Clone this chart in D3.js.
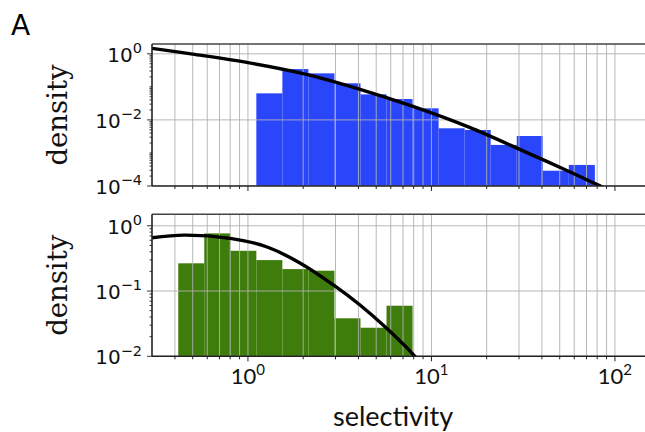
<!DOCTYPE html>
<html>
<head>
<meta charset="utf-8">
<script src="https://cdn.jsdelivr.net/npm/d3@7"></script>
<style>
  html, body { margin: 0; padding: 0; background: #fff; }
  svg { display: block; }
</style>
</head>
<body>
<svg id="chart" width="645" height="432"></svg>
<script>
// Histogram bin edges (log-spaced) and densities for the two populations
const topEdges = [1.111, 1.540, 2.135, 2.960, 4.105, 5.691, 7.890, 10.94, 15.17, 21.03, 29.16, 40.43, 56.05, 77.71];
const topDensity = [0.0636, 0.345, 0.256, 0.128, 0.0593, 0.0428, 0.0224, 0.00557, 0.00495, 0.00175, 0.00326, 0.00029, 0.000434];

const bottomEdges = [0.417, 0.578, 0.801, 1.111, 1.540, 2.135, 2.960, 4.105, 5.691, 7.890];
const bottomDensity = [0.266, 0.765, 0.414, 0.298, 0.217, 0.205, 0.0382, 0.0274, 0.0596];

// Fitted density curves
const topFitX = [0.3, 0.5, 1, 2, 4, 8, 16, 32, 50, 80, 100];
const topFitY = [1.46, 0.977, 0.54, 0.251, 0.087, 0.0251, 0.00603, 0.00112, 0.00037, 0.00011, 0.000059];

const bottomFitX = [0.3, 0.45, 0.8, 1.26, 1.92, 2.92, 4.08, 5.7, 8.12, 9];
const bottomFitY = [0.655, 0.72, 0.64, 0.477, 0.27, 0.124, 0.061, 0.0268, 0.01, 0.007];

// Axis ticks
const xTickLabels = [1, 10, 100];
const topYTicks = [1, 0.01, 0.0001];
const bottomYTicks = [1, 0.1, 0.01];

const svg = d3.select("#chart");
svg.append("rect").attr("width", 645).attr("height", 432).attr("fill", "#fff");

const plotLeft = 152;
const decadePx = 183.5;
const xDomain = [0.3, 160];
const x = d3.scaleLog()
  .domain(xDomain)
  .range([plotLeft, plotLeft + Math.log10(xDomain[1] / xDomain[0]) * decadePx]);

const panels = [
  { id: "top", top: 44, bottom: 186, yDomain: [1e-4, 1.98], edges: topEdges, dens: topDensity,
    fx: topFitX, fy: topFitY, color: "#2a46fb", yTicks: topYTicks, xLabels: false },
  { id: "bottom", top: 214.3, bottom: 356.3, yDomain: [1e-2, 1.5], edges: bottomEdges, dens: bottomDensity,
    fx: bottomFitX, fy: bottomFitY, color: "#3e7d0b", yTicks: bottomYTicks, xLabels: true }
];

const plotRight = 645;

function supLabel(sel, exp, baseSize, supSize, supShift) {
  sel.append("tspan").text("10").attr("font-size", baseSize);
  sel.append("tspan").text(exp < 0 ? "\u2212" + Math.abs(exp) : String(exp))
    .attr("font-size", supSize).attr("dy", -supShift);
}

panels.forEach(p => {
  const y = d3.scaleLog().domain(p.yDomain).range([p.bottom, p.top]);
  const g = svg.append("g");

  const clipId = "clip-" + p.id;
  g.append("clipPath").attr("id", clipId)
    .append("rect").attr("x", plotLeft).attr("y", p.top)
    .attr("width", plotRight - plotLeft).attr("height", p.bottom - p.top);

  const plot = g.append("g").attr("clip-path", `url(#${clipId})`);

  // histogram bars
  const bars = p.dens.map((d, i) => ({ x0: p.edges[i], x1: p.edges[i + 1], d }));
  plot.selectAll("rect.bar").data(bars).join("rect")
    .attr("class", "bar")
    .attr("x", b => x(b.x0))
    .attr("width", b => x(b.x1) - x(b.x0))
    .attr("y", b => y(b.d))
    .attr("height", b => p.bottom - y(b.d))
    .attr("fill", p.color);

  // grid: every x tick (major and minor), y major ticks only
  const xt = x.ticks().filter(v => v >= xDomain[0] * 1.001);
  plot.selectAll("line.vgrid").data(xt).join("line")
    .attr("x1", d => x(d)).attr("x2", d => x(d))
    .attr("y1", p.top).attr("y2", p.bottom)
    .attr("stroke", "#b0b0b0").attr("stroke-opacity", 0.9).attr("stroke-width", 1);
  plot.selectAll("line.hgrid").data(p.yTicks).join("line")
    .attr("x1", plotLeft).attr("x2", plotRight)
    .attr("y1", d => y(d)).attr("y2", d => y(d))
    .attr("stroke", "#b0b0b0").attr("stroke-opacity", 0.9).attr("stroke-width", 1);

  // fitted curve
  const pts = p.fx.map((v, i) => [v, p.fy[i]]);
  plot.append("path")
    .datum(pts)
    .attr("d", d3.line().x(d => x(d[0])).y(d => y(d[1])).curve(d3.curveCatmullRom.alpha(0.5)))
    .attr("fill", "none").attr("stroke", "#000").attr("stroke-width", 3.4);

  // spines
  g.append("line").attr("x1", plotLeft).attr("x2", plotRight).attr("y1", p.top).attr("y2", p.top)
    .attr("stroke", "#444").attr("stroke-width", 1.6);
  g.append("line").attr("x1", plotLeft).attr("x2", plotRight).attr("y1", p.bottom).attr("y2", p.bottom)
    .attr("stroke", "#222").attr("stroke-width", 1.6);
  g.append("line").attr("x1", plotLeft).attr("x2", plotLeft).attr("y1", p.top).attr("y2", p.bottom)
    .attr("stroke", "#222").attr("stroke-width", 1.6);

  // x ticks (outward, at the bottom)
  g.selectAll("line.xtick").data(xt.filter(v => x(v) < plotRight)).join("line")
    .attr("x1", d => x(d)).attr("x2", d => x(d))
    .attr("y1", p.bottom)
    .attr("y2", d => p.bottom + (Math.abs(Math.log10(d) - Math.round(Math.log10(d))) < 1e-9 ? 5 : 3))
    .attr("stroke", "#222").attr("stroke-width", 1);

  // y ticks: minor at every 1..9 multiple, major at labelled ticks
  const yt = y.ticks().filter(v => v >= p.yDomain[0] && v <= p.yDomain[1]);
  g.selectAll("line.ytick").data(yt).join("line")
    .attr("x1", plotLeft).attr("x2", d => plotLeft - (p.yTicks.includes(d) ? 5 : 2.5))
    .attr("y1", d => y(d)).attr("y2", d => y(d))
    .attr("stroke", "#222").attr("stroke-width", 0.9);

  // y tick labels
  p.yTicks.forEach(v => {
    const t = g.append("text")
      .attr("x", 142).attr("y", y(v) + 7.8)
      .attr("text-anchor", "end")
      .attr("font-family", "DejaVu Sans").attr("fill", "#111");
    supLabel(t, Math.round(Math.log10(v)), 20, 14.5, 8.5);
  });

  // y axis title
  g.append("text")
    .attr("transform", `translate(67,${(p.top + p.bottom) / 2}) rotate(-90)`)
    .attr("text-anchor", "middle")
    .attr("font-family", "DejaVu Serif").attr("font-size", 27.5).attr("fill", "#111")
    .text("density");

  if (p.xLabels) {
    xTickLabels.forEach(v => {
      const t = g.append("text")
        .attr("x", x(v)).attr("y", p.bottom + 28)
        .attr("text-anchor", "middle")
        .attr("font-family", "Lato").attr("fill", "#111");
      supLabel(t, Math.round(Math.log10(v)), 22, 15, 9);
    });
  }
});

// x axis title
svg.append("text")
  .attr("x", 393).attr("y", 426)
  .attr("text-anchor", "middle")
  .attr("font-family", "Lato").attr("font-size", 27).attr("fill", "#111")
  .text("selectivity");

// panel letter
svg.append("text")
  .attr("x", 11).attr("y", 35)
  .attr("font-family", "DejaVu Sans").attr("font-size", 28).attr("fill", "#000")
  .text("A");
</script>
</body>
</html>
